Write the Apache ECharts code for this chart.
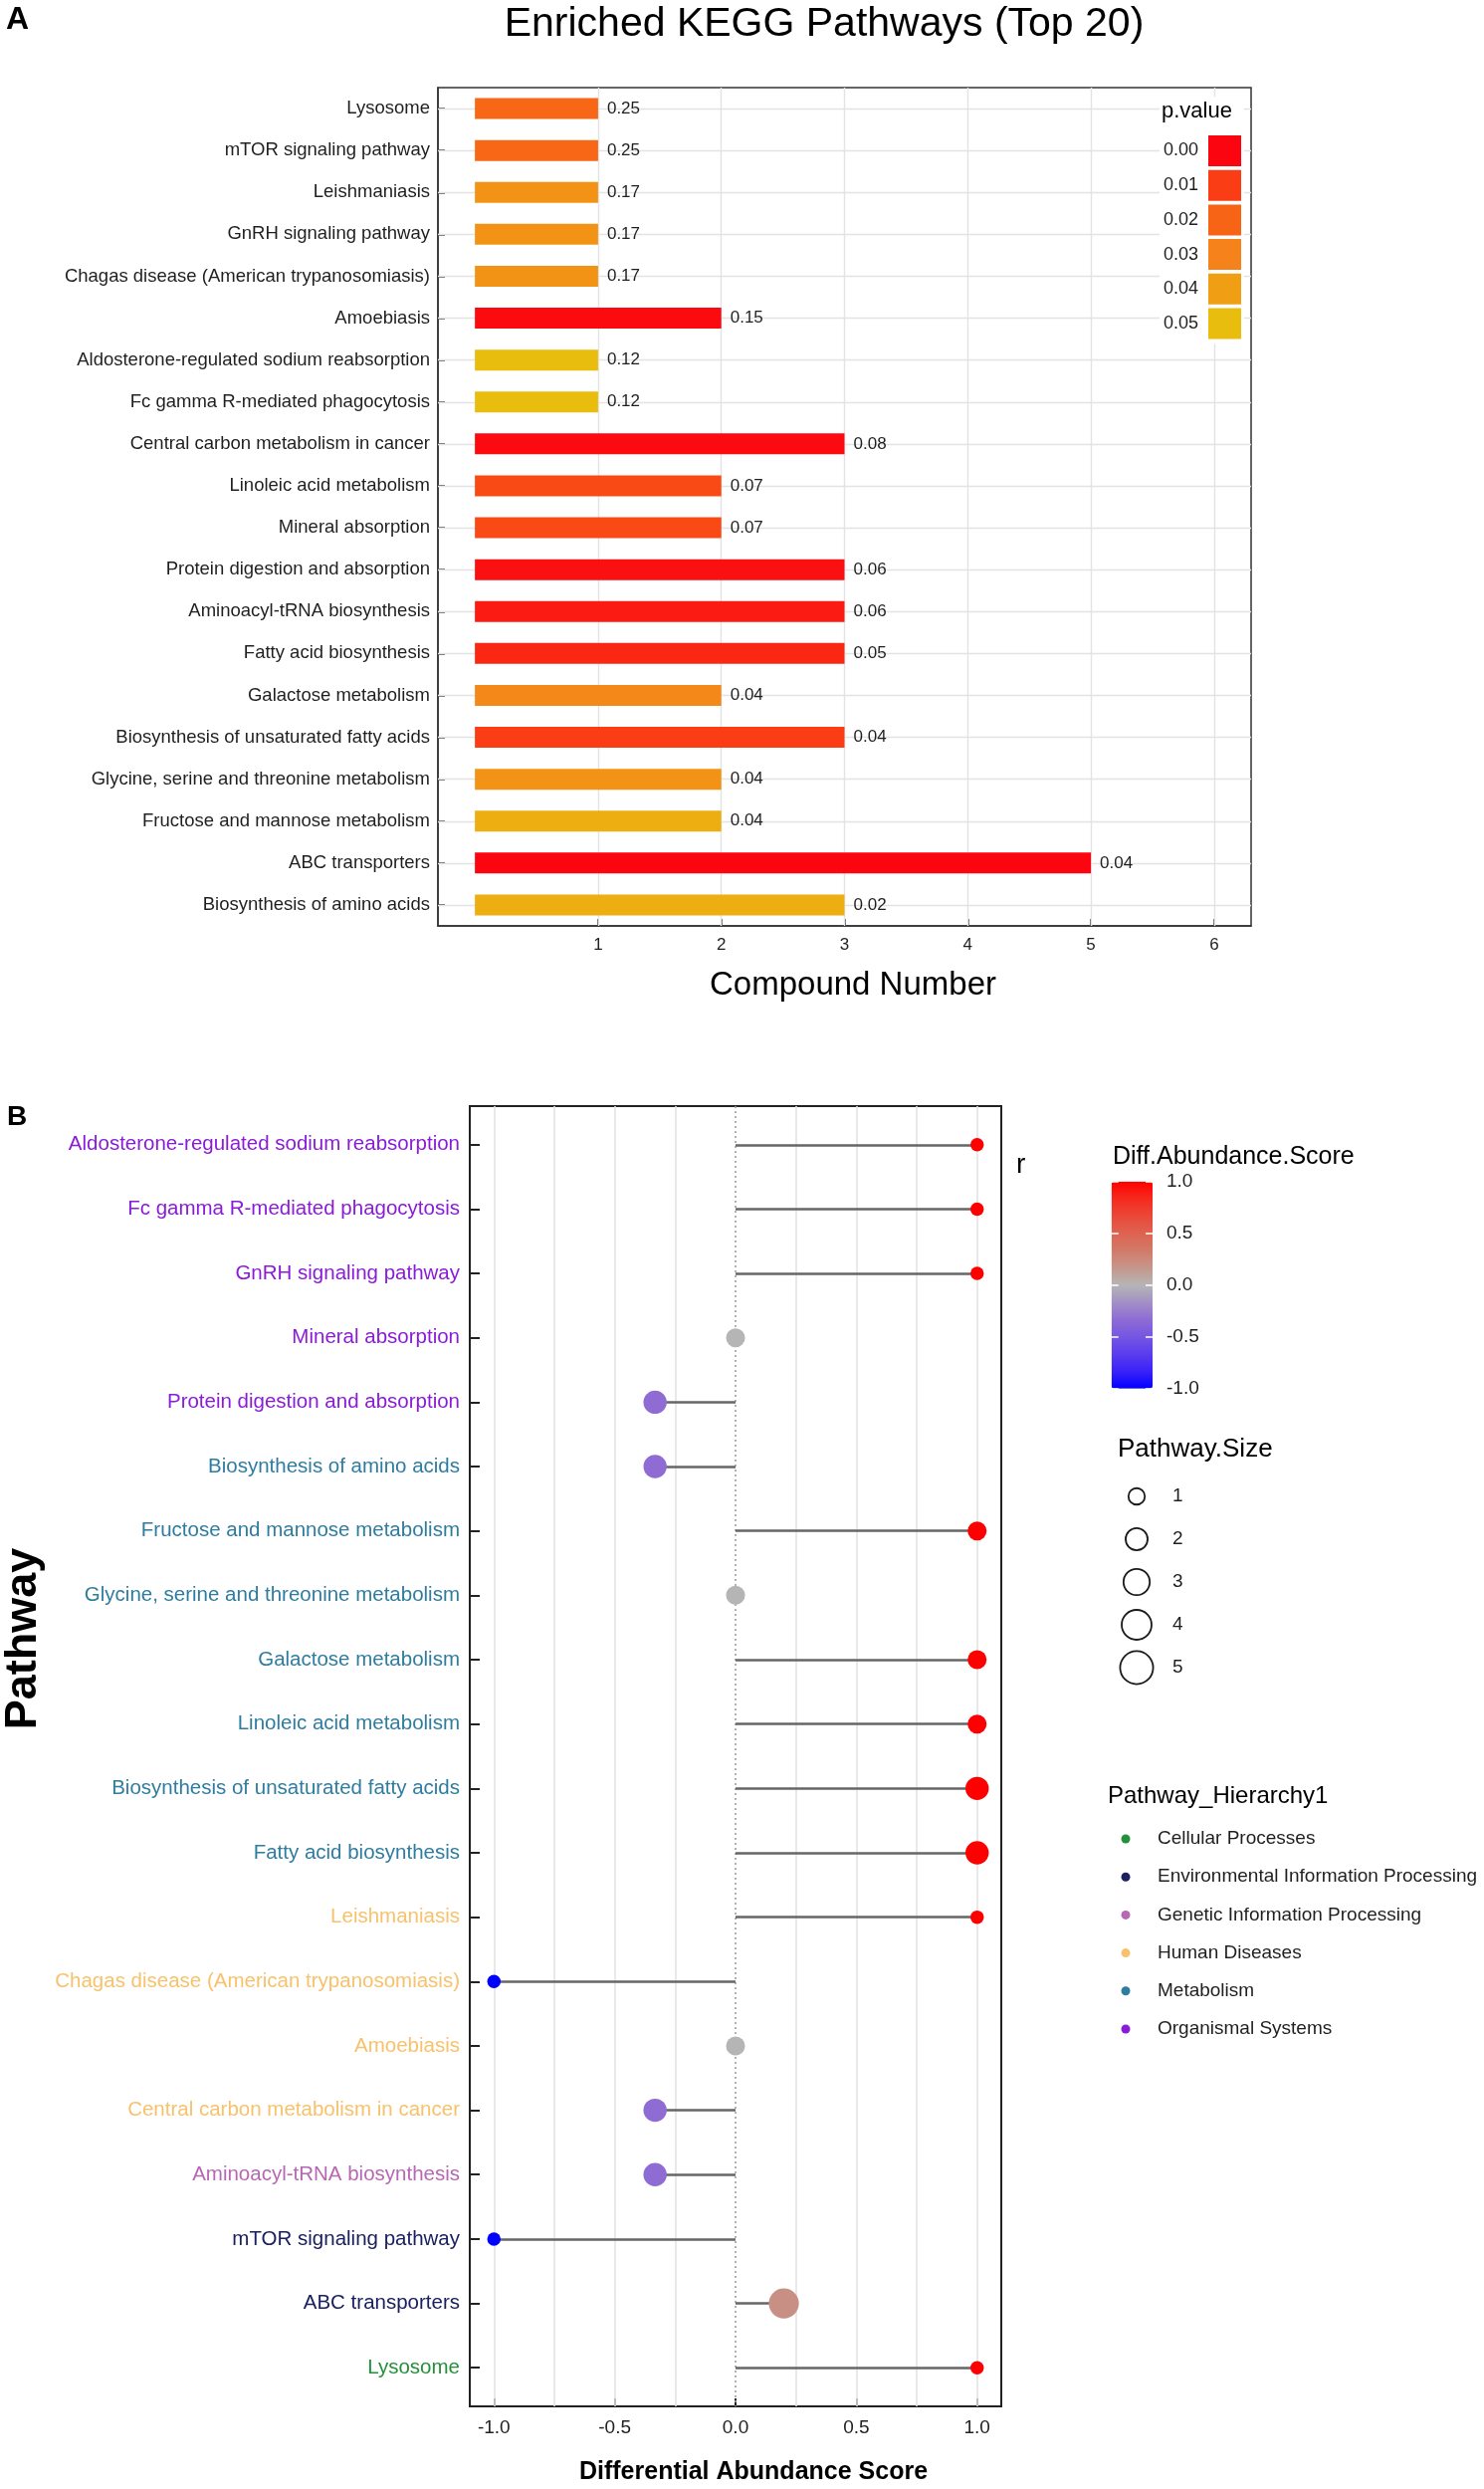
<!DOCTYPE html>
<html><head><meta charset="utf-8">
<script src="https://cdn.jsdelivr.net/npm/echarts@6/dist/echarts.min.js"></script>
<style>html,body{margin:0;padding:0;background:#fff}#c{width:1491px;height:2500px}</style>
</head><body><div id="c"></div>
<script>
// ---------- Panel A data ----------
const keggPathways = ['Lysosome','mTOR signaling pathway','Leishmaniasis','GnRH signaling pathway','Chagas disease (American trypanosomiasis)','Amoebiasis','Aldosterone-regulated sodium reabsorption','Fc gamma R-mediated phagocytosis','Central carbon metabolism in cancer','Linoleic acid metabolism','Mineral absorption','Protein digestion and absorption','Aminoacyl-tRNA biosynthesis','Fatty acid biosynthesis','Galactose metabolism','Biosynthesis of unsaturated fatty acids','Glycine, serine and threonine metabolism','Fructose and mannose metabolism','ABC transporters','Biosynthesis of amino acids'];
const compoundNumber = [1,1,1,1,1,2,1,1,3,2,2,3,3,3,2,3,2,2,5,3];
const barLabels = ['0.25','0.25','0.17','0.17','0.17','0.15','0.12','0.12','0.08','0.07','0.07','0.06','0.06','0.05','0.04','0.04','0.04','0.04','0.04','0.02'];
const pValues = [0.021,0.021,0.036,0.036,0.036,0.001,0.05,0.05,0.001,0.013,0.013,0.002,0.004,0.006,0.032,0.01,0.036,0.045,0.0,0.045];
const pLegendLabels = ['0.00','0.01','0.02','0.03','0.04','0.05'];
const pColors = ['#FB0510','#FA3D14','#F86416','#F5821A','#F09E14','#E8BD0E'];
const compoundTicks = [1,2,3,4,5,6];

// ---------- Panel B data ----------
const daPathways = ['Aldosterone-regulated sodium reabsorption','Fc gamma R-mediated phagocytosis','GnRH signaling pathway','Mineral absorption','Protein digestion and absorption','Biosynthesis of amino acids','Fructose and mannose metabolism','Glycine, serine and threonine metabolism','Galactose metabolism','Linoleic acid metabolism','Biosynthesis of unsaturated fatty acids','Fatty acid biosynthesis','Leishmaniasis','Chagas disease (American trypanosomiasis)','Amoebiasis','Central carbon metabolism in cancer','Aminoacyl-tRNA biosynthesis','mTOR signaling pathway','ABC transporters','Lysosome'];
const daScore = [1,1,1,0,-0.333,-0.333,1,0,1,1,1,1,1,-1,0,-0.333,-0.333,-1,0.2,1];
const pathwaySize = [1,1,1,2,3,3,2,2,2,2,3,3,1,1,2,3,3,1,5,1];
const hierarchy = ['Organismal Systems','Organismal Systems','Organismal Systems','Organismal Systems','Organismal Systems','Metabolism','Metabolism','Metabolism','Metabolism','Metabolism','Metabolism','Metabolism','Human Diseases','Human Diseases','Human Diseases','Human Diseases','Genetic Information Processing','Environmental Information Processing','Environmental Information Processing','Cellular Processes'];
const hierarchyNames = ['Cellular Processes','Environmental Information Processing','Genetic Information Processing','Human Diseases','Metabolism','Organismal Systems'];
const hierarchyColors = ['#25903A','#1B2160','#B767B3','#F7C26B','#2E7CA0','#8A1BD8'];
const scoreTicks = [-1,-0.5,0,0.5,1];
const scoreGridLines = [-1,-0.75,-0.5,-0.25,0.25,0.5,0.75,1];
const sizeLegendValues = [1,2,3,4,5];
const scoreColors = ['#0000FF','#3A22F8','#5A3DEE','#7556E2','#8E6CD4','#A390C6','#B5B5B5','#C6968B','#D27A68','#DE6250','#EA4838','#F52A1E','#FF0000'];

const FONT = "'Liberation Sans', Arial, Helvetica, sans-serif";
const sizeFn = v => 13.5 * Math.sqrt(v);
const rowIdx = daPathways.map((_, i) => i);

const series = [];
// 0: bars A
series.push({
  type: 'bar', xAxisIndex: 0, yAxisIndex: 0, barWidth: 21, z: 2,
  encode: {x: 0, y: 1},
  data: keggPathways.map((n, i) => [compoundNumber[i], i, pValues[i]]),
  label: {show: true, position: 'right', distance: 9, fontSize: 17, color: '#1f1f1f', fontFamily: FONT,
          formatter: p => barLabels[p.dataIndex]},
  markLine: {
    silent: true, symbol: 'none', z: 1, animation: false,
    label: {show: false},
    lineStyle: {color: '#E3E3E3', width: 1.4, type: 'solid'},
    data: keggPathways.map((n, i) => ({yAxis: i})).concat(compoundTicks.map(v => ({xAxis: v})))
  }
});
// legend dummies A
pLegendLabels.forEach((n, k) => series.push({type: 'scatter', name: n, xAxisIndex: 0, yAxisIndex: 0, data: [], itemStyle: {color: pColors[k], opacity: 1}}));
// lines B
series.push({
  type: 'lines', coordinateSystem: 'cartesian2d', xAxisIndex: 1, yAxisIndex: 1, z: 2, silent: true,
  lineStyle: {color: '#666666', width: 2.7, opacity: 1},
  data: daScore.map((s, i) => ({coords: [[0, rowIdx[i]], [s, rowIdx[i]]]}))
});
// dots B
const dotsIdx = series.length;
series.push({
  type: 'scatter', xAxisIndex: 1, yAxisIndex: 1, z: 3,
  data: daScore.map((s, i) => [s, rowIdx[i], pathwaySize[i]]),
  symbolSize: v => sizeFn(v[2]),
  itemStyle: {opacity: 1},
  markLine: {
    silent: true, symbol: 'none', z: 1, animation: false, label: {show: false},
    data: scoreGridLines.map(v => ({xAxis: v, lineStyle: {color: '#E4E4E4', width: 1.6, type: 'solid'}}))
      .concat([{xAxis: 0, lineStyle: {color: '#9E9E9E', width: 1.6, type: [2, 3]}}])
  }
});
// legend dummies B hierarchy
hierarchyNames.forEach((n, k) => series.push({type: 'scatter', name: n, xAxisIndex: 1, yAxisIndex: 1, data: [], itemStyle: {color: hierarchyColors[k], opacity: 1}}));
// size legend
series.push({
  type: 'scatter', xAxisIndex: 2, yAxisIndex: 2, silent: true,
  data: sizeLegendValues.map((s, i) => [0, i, s]),
  symbolSize: v => sizeFn(v[2]) + 3,
  itemStyle: {color: '#ffffff', borderColor: '#1a1a1a', borderWidth: 1.8, opacity: 1}
});
// colorbar axis holder
series.push({type: 'scatter', xAxisIndex: 3, yAxisIndex: 3, data: []});

const option = {
  animation: false,
  backgroundColor: '#ffffff',
  textStyle: {fontFamily: FONT},
  grid: [
    {left: 440, top: 88, width: 817, height: 842, show: true, borderColor: '#333', borderWidth: 1.5, backgroundColor: 'transparent'},
    {left: 472, top: 1111, width: 534, height: 1306, show: true, borderColor: '#222', borderWidth: 2, backgroundColor: 'transparent'},
    {left: 1122, top: 1481.5, width: 40, height: 215},
    {left: 1116.7, top: 1186.7, width: 41.3, height: 208}
  ],
  xAxis: [
    {type: 'value', gridIndex: 0, min: -0.3, max: 6.3,
     axisLine: {show: true, onZero: false, lineStyle: {color: '#333', width: 1.5}},
     axisTick: {show: true, inside: true, length: 7, customValues: compoundTicks, lineStyle: {color: '#333', width: 1.5}},
     axisLabel: {customValues: compoundTicks, fontSize: 17, color: '#1f1f1f', margin: 11, formatter: v => String(v)},
     splitLine: {show: false}},
    {type: 'value', gridIndex: 1, min: -1.1, max: 1.1,
     axisLine: {show: true, onZero: false, lineStyle: {color: '#222', width: 2}},
     axisTick: {show: true, inside: true, length: 8, customValues: scoreTicks, lineStyle: {color: '#222', width: 2}},
     axisLabel: {customValues: scoreTicks, fontSize: 19, color: '#222', margin: 12, formatter: v => Number(v).toFixed(1)},
     splitLine: {show: false}},
    {type: 'value', gridIndex: 2, min: -1, max: 1, show: false},
    {type: 'value', gridIndex: 3, min: 0, max: 1, show: false}
  ],
  yAxis: [
    {type: 'category', gridIndex: 0, data: keggPathways, inverse: true,
     axisLine: {show: true, onZero: false, lineStyle: {color: '#333', width: 1.5}},
     axisTick: {show: true, inside: true, length: 7, alignWithLabel: true, lineStyle: {color: '#333', width: 1.5}},
     axisLabel: {fontSize: 18.5, color: '#1f1f1f', margin: 8},
     splitLine: {show: false}},
    {type: 'value', gridIndex: 1, min: -0.6, max: 19.6, inverse: true,
     axisLine: {show: true, onZero: false, lineStyle: {color: '#222', width: 2}},
     axisTick: {show: true, inside: true, length: 10, customValues: rowIdx, lineStyle: {color: '#222', width: 2}},
     axisLabel: {customValues: rowIdx, fontSize: 20.5, margin: 10,
       formatter: v => daPathways[Math.round(v)],
       color: v => hierarchyColors[hierarchyNames.indexOf(hierarchy[Math.round(+v)])]},
     splitLine: {show: false}},
    {type: 'category', gridIndex: 2, data: sizeLegendValues.map(String), inverse: true, position: 'right',
     axisLine: {show: false}, axisTick: {show: false},
     axisLabel: {fontSize: 19, color: '#1f1f1f', margin: 16}, splitLine: {show: false}},
    {type: 'value', gridIndex: 3, min: -1, max: 1, interval: 0.5, position: 'right', z: 10,
     axisLine: {show: false, onZero: false},
     axisTick: {show: true, inside: true, length: 7, lineStyle: {color: '#ffffff', width: 1.5}},
     axisLabel: {fontSize: 19, color: '#1f1f1f', margin: 14, formatter: v => Number(v).toFixed(1)},
     splitLine: {show: false}},
    {type: 'value', gridIndex: 3, min: -1, max: 1, interval: 0.5, position: 'left', z: 10,
     axisLine: {show: false, onZero: false},
     axisTick: {show: true, inside: true, length: 7, lineStyle: {color: '#ffffff', width: 1.5}},
     axisLabel: {show: false}, splitLine: {show: false}}
  ],
  visualMap: [
    {type: 'continuous', show: false, seriesIndex: 0, dimension: 2, min: 0, max: 0.05, inRange: {color: pColors}},
    {type: 'continuous', show: true, seriesIndex: dotsIdx, dimension: 0, min: -1, max: 1, calculable: false,
     inRange: {color: scoreColors}, left: 1116.7, top: 1186.7, itemWidth: 41.3, itemHeight: 208, padding: 0,
     orient: 'vertical', text: null, z: 4}
  ],
  legend: [
    {data: pLegendLabels, orient: 'vertical', right: 241, top: 97, padding: [39, 3, 5, 4],
     itemWidth: 33, itemHeight: 31, itemGap: 3.7, icon: 'rect', align: 'right', selectedMode: false,
     backgroundColor: '#ffffff', formatter: n => n + ' ',
     textStyle: {fontSize: 18, color: '#1f1f1f', fontFamily: FONT}},
    {data: hierarchyNames, orient: 'vertical', left: 1126.5, top: 1837, padding: 0,
     itemWidth: 54, itemHeight: 9, itemGap: 18.2, icon: 'circle', selectedMode: false,
     textStyle: {fontSize: 19, color: '#1f1f1f', lineHeight: 20, fontFamily: FONT}}
  ],
  graphic: [
    {type: 'text', z: 100, left: 6, top: 4, style: {text: 'A', font: 'bold 32px ' + FONT, fill: '#000'}},
    {type: 'text', z: 100, x: 828, y: 25, style: {text: 'Enriched KEGG Pathways (Top 20)', font: '41px ' + FONT, fill: '#000', align: 'center', verticalAlign: 'middle'}},
    {type: 'text', z: 100, x: 857, y: 990, style: {text: 'Compound Number', font: '33px ' + FONT, fill: '#000', align: 'center', verticalAlign: 'middle'}},
    {type: 'text', z: 100, x: 1167, y: 112, style: {text: 'p.value', font: '22px ' + FONT, fill: '#000', align: 'left', verticalAlign: 'middle'}},
    {type: 'text', z: 100, x: 7, y: 1122, style: {text: 'B', font: 'bold 28px ' + FONT, fill: '#000', align: 'left', verticalAlign: 'middle'}},
    {type: 'text', z: 100, x: 24, y: 1646, rotation: Math.PI / 2, style: {text: 'Pathway', font: 'bold 45px ' + FONT, fill: '#000', align: 'center', verticalAlign: 'middle'}},
    {type: 'text', z: 100, x: 757, y: 2483, style: {text: 'Differential Abundance Score', font: 'bold 25px ' + FONT, fill: '#000', align: 'center', verticalAlign: 'middle'}},
    {type: 'text', z: 100, x: 1021, y: 1170, style: {text: 'r', font: '28px ' + FONT, fill: '#000', align: 'left', verticalAlign: 'middle'}},
    {type: 'text', z: 100, x: 1118, y: 1162, style: {text: 'Diff.Abundance.Score', font: '25px ' + FONT, fill: '#000', align: 'left', verticalAlign: 'middle'}},
    {type: 'text', z: 100, x: 1123, y: 1456, style: {text: 'Pathway.Size', font: '26px ' + FONT, fill: '#000', align: 'left', verticalAlign: 'middle'}},
    {type: 'text', z: 100, x: 1113, y: 1804, style: {text: 'Pathway_Hierarchy1', font: '24px ' + FONT, fill: '#000', align: 'left', verticalAlign: 'middle'}}
  ],
  series: series
};
const chart = echarts.init(document.getElementById('c'), null, {renderer: 'canvas'});
chart.setOption(option);
</script>
</body></html>
